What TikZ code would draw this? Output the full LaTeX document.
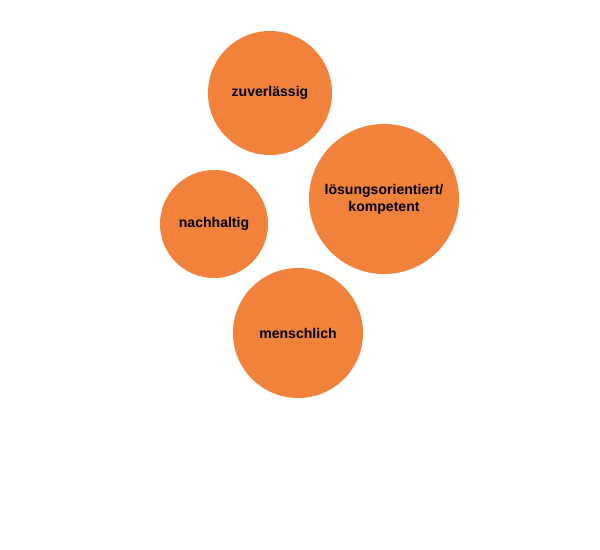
\documentclass[tikz,border=0pt]{standalone}
\usepackage{fontspec}
\setmainfont{Liberation Sans}
\usetikzlibrary{positioning}
\definecolor{bubbleorange}{HTML}{F0823C}

\begin{document}
\begin{tikzpicture}[
  x=0.025cm, y=-0.025cm,
  bubble/.style={circle, fill=bubbleorange, inner sep=0pt, align=center,
    font=\bfseries\fontsize{10pt}{12pt}\selectfont},
]
  \useasboundingbox (0,0) rectangle (600,550);
  % Bubbles
  \node[bubble, minimum size=3.1cm] (reliable) at (270,93) {zuverlässig};
  \node[bubble, minimum size=3.75cm] (solution) at (384,199) {lösungsorientiert/\\kompetent};
  \node[bubble, minimum size=2.7cm] (sustain) at (214,224) {nachhaltig};
  \node[bubble, minimum size=3.25cm] (human) at (298,333) {menschlich};
\end{tikzpicture}
\end{document}
